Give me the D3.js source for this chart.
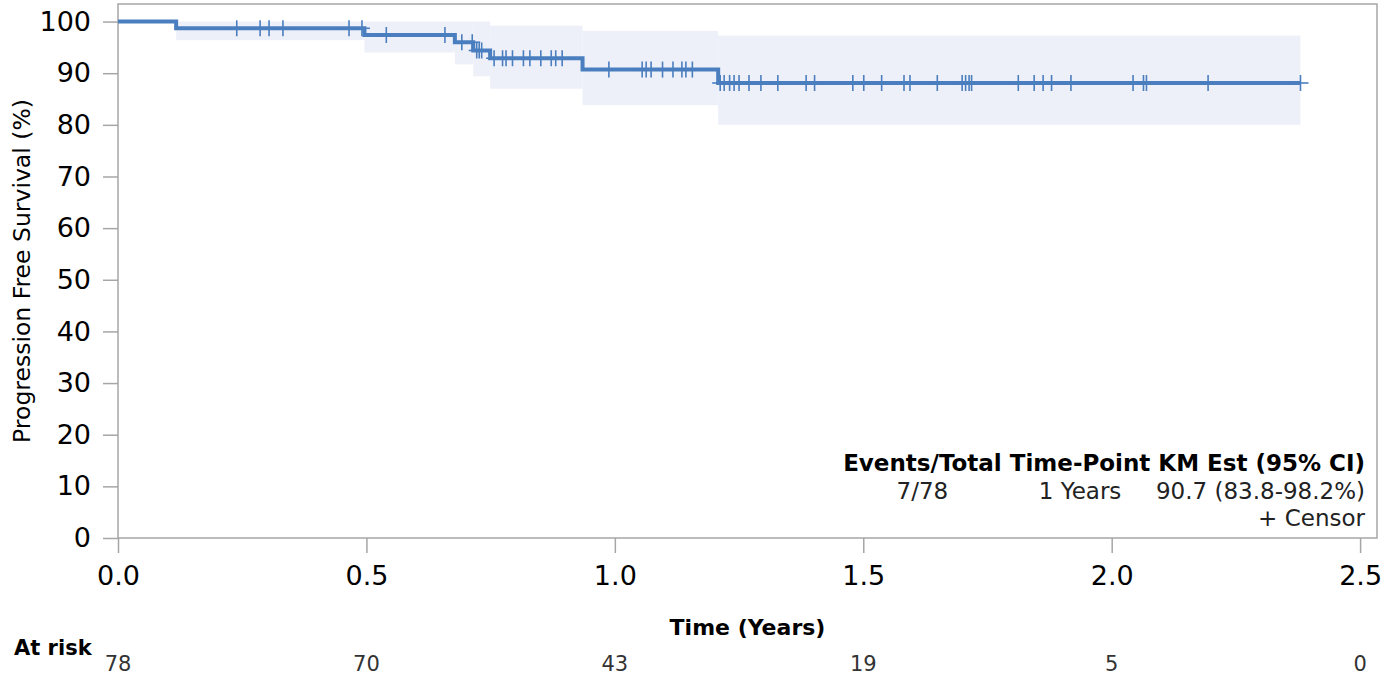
<!DOCTYPE html>
<html>
<head>
<meta charset="utf-8">
<script src="https://cdn.jsdelivr.net/npm/d3@7"></script>
<style>
  body { margin: 0; background: #fff; }
  svg { display: block; font-family: "DejaVu Sans", sans-serif; }
</style>
</head>
<body>
<div id="chart"></div>
<script>
// KM step curve (time in years, survival in %)
const stepTimes = [0, 0.117, 0.496, 0.678, 0.715, 0.749, 0.935, 1.208];
const survival  = [100, 98.7, 97.4, 96.0, 94.4, 92.9, 90.7, 88.1];
const ciLower   = [100, 96.4, 94.0, 91.7, 89.4, 87.0, 83.8, 80.0];
const ciUpper   = [100, 100, 100, 100, 100, 99.2, 98.2, 97.3];
const lastTime  = 2.38;

// censored observations
const censorTimes = [
  0.239, 0.286, 0.304, 0.332, 0.465, 0.491, 0.540, 0.658, 0.692, 0.713,
  0.722, 0.727, 0.732, 0.757, 0.774, 0.781, 0.794, 0.816, 0.829, 0.851,
  0.872, 0.881, 0.894, 0.988, 1.055, 1.063, 1.073, 1.096, 1.117, 1.135,
  1.143, 1.156, 1.212, 1.220, 1.231, 1.240, 1.250, 1.270, 1.294, 1.328,
  1.385, 1.402, 1.479, 1.501, 1.537, 1.582, 1.594, 1.649, 1.699, 1.706,
  1.713, 1.718, 1.812, 1.844, 1.862, 1.879, 1.918, 2.043, 2.064, 2.070,
  2.194, 2.380
];

const xTicks = [0, 0.5, 1, 1.5, 2, 2.5];
const yTicks = [0, 10, 20, 30, 40, 50, 60, 70, 80, 90, 100];
const atRisk = [78, 70, 43, 19, 5, 0];

const legendHead = ["Events/Total", "Time-Point", "KM Est (95% CI)"];
const legendRow  = ["7/78", "1 Years", "90.7 (83.8-98.2%)"];

const W = 1382, H = 677;
const blue = "#4a7ebf", band = "#edf0f8", axisGrey = "#a6a6a6";

const svg = d3.select("#chart").append("svg")
    .attr("width", W).attr("height", H);

const x = d3.scaleLinear().domain([0, 2.534]).range([118, 1377]);
const y = d3.scaleLinear().domain([0, 103.4]).range([538, 4]);

// confidence band, one rect per step segment
const segs = stepTimes.map((t, i) => ({
    t0: t,
    t1: i < stepTimes.length - 1 ? stepTimes[i + 1] : lastTime,
    s: survival[i], lo: ciLower[i], hi: ciUpper[i]
}));

svg.append("g").selectAll("rect")
    .data(segs.filter(d => d.hi > d.lo))
    .enter().append("rect")
    .attr("x", d => x(d.t0))
    .attr("width", d => x(d.t1) - x(d.t0))
    .attr("y", d => y(d.hi))
    .attr("height", d => y(d.lo) - y(d.hi))
    .attr("fill", band);

// frame
svg.append("rect")
    .attr("x", x.range()[0]).attr("y", y.range()[1])
    .attr("width", x.range()[1] - x.range()[0])
    .attr("height", y.range()[0] - y.range()[1])
    .attr("fill", "none").attr("stroke", axisGrey).attr("stroke-width", 1.5);

// survival step line
const linePts = segs.map(d => [d.t0, d.s]);
linePts.push([lastTime, survival[survival.length - 1]]);
svg.append("path")
    .datum(linePts)
    .attr("fill", "none")
    .attr("stroke", blue)
    .attr("stroke-width", 4)
    .attr("d", d3.line().x(d => x(d[0])).y(d => y(d[1])).curve(d3.curveStepAfter));

// censor marks
function survAt(t) {
    let s = survival[0];
    stepTimes.forEach((st, i) => { if (t >= st) s = survival[i]; });
    return s;
}
const cg = svg.append("g").attr("stroke", blue).attr("stroke-width", 1.6);
censorTimes.forEach(t => {
    const cx = x(t), cy = y(survAt(t));
    cg.append("line").attr("x1", cx).attr("x2", cx).attr("y1", cy - 8).attr("y2", cy + 8);
    cg.append("line").attr("x1", cx - 8).attr("x2", cx + 8).attr("y1", cy).attr("y2", cy);
});

// y axis
const yAxis = svg.append("g")
    .attr("transform", `translate(${x.range()[0]},0)`)
    .call(d3.axisLeft(y).tickValues(yTicks).tickSize(15).tickPadding(12));
yAxis.select(".domain").remove();
yAxis.selectAll(".tick line").attr("stroke", axisGrey).attr("stroke-width", 1.5);
yAxis.selectAll(".tick text").attr("font-size", 27).attr("fill", "#000")
    .attr("font-family", "DejaVu Sans");

// x axis
const xAxis = svg.append("g")
    .attr("transform", `translate(0,${y.range()[0]})`)
    .call(d3.axisBottom(x).tickValues(xTicks).tickFormat(d3.format(".1f"))
        .tickSize(15).tickPadding(13));
xAxis.select(".domain").remove();
xAxis.selectAll(".tick line").attr("stroke", axisGrey).attr("stroke-width", 1.5);
xAxis.selectAll(".tick text").attr("font-size", 27).attr("fill", "#000")
    .attr("font-family", "DejaVu Sans");

// axis titles
svg.append("text")
    .attr("transform", `translate(30,271) rotate(-90)`)
    .attr("text-anchor", "middle")
    .attr("font-size", 23.5)
    .text("Progression Free Survival (%)");

svg.append("text")
    .attr("x", (x.range()[0] + x.range()[1]) / 2).attr("y", 635)
    .attr("text-anchor", "middle")
    .attr("font-size", 22).attr("font-weight", "bold")
    .text("Time (Years)");

// at-risk table
svg.append("text")
    .attr("x", 14).attr("y", 655)
    .attr("font-size", 21).attr("font-weight", "bold")
    .text("At risk");

svg.append("g").selectAll("text")
    .data(atRisk)
    .enter().append("text")
    .attr("x", (d, i) => x(xTicks[i]))
    .attr("y", 671)
    .attr("text-anchor", "middle")
    .attr("font-size", 21).attr("fill", "#333")
    .text(d => d);

// inset legend
const legRight = 1365, legFont = 23;
const head = svg.append("text")
    .attr("x", legRight).attr("y", 471)
    .attr("text-anchor", "end")
    .attr("font-size", legFont).attr("font-weight", "bold");
const spans = legendHead.map((h, i) =>
    head.append("tspan").text((i ? " " : "") + h));
// column centres from the rendered header
const widths = spans.map(s => s.node().getComputedTextLength());
const total = d3.sum(widths);
let cursor = legRight - total;
const spaceW = widths[1] - (function () {
    const t = svg.append("text").attr("font-size", legFont).attr("font-weight", "bold").text(legendHead[1]);
    const w = t.node().getComputedTextLength(); t.remove(); return w;
})();
const centres = widths.map((w, i) => {
    const start = cursor + (i ? spaceW : 0);
    cursor += w;
    return (start + cursor) / 2;
});

svg.append("g").selectAll("text")
    .data(legendRow)
    .enter().append("text")
    .attr("x", (d, i) => i === legendRow.length - 1 ? legRight : centres[i])
    .attr("y", 499)
    .attr("text-anchor", (d, i) => i === legendRow.length - 1 ? "end" : "middle")
    .attr("font-size", legFont).attr("fill", "#222")
    .text(d => d);

svg.append("text")
    .attr("x", legRight).attr("y", 526)
    .attr("text-anchor", "end")
    .attr("font-size", legFont).attr("fill", "#222")
    .text("+ Censor");
</script>
</body>
</html>
